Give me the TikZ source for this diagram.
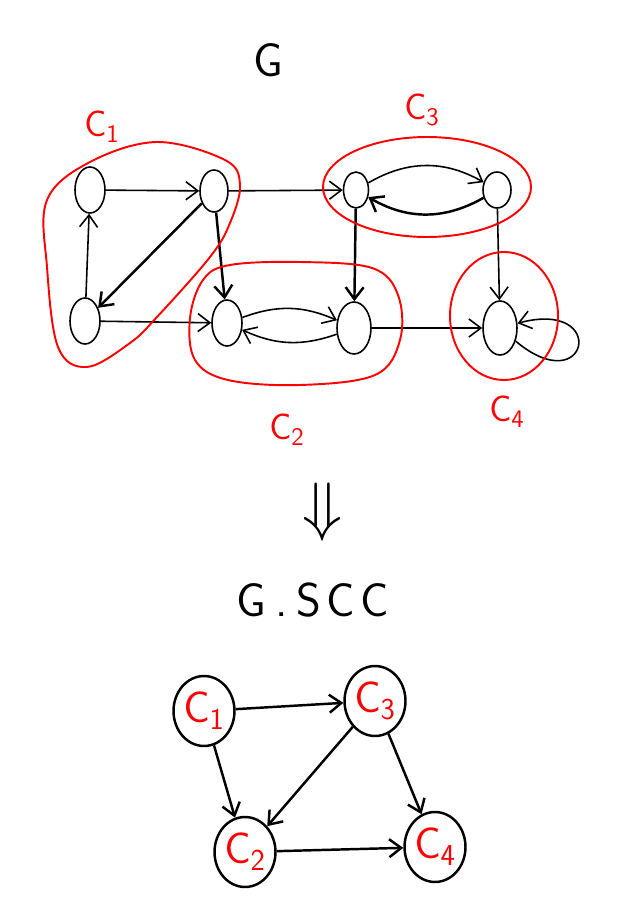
\documentclass[tikz,border=0pt]{standalone}
\usetikzlibrary{arrows.meta,shapes.geometric}

\newcommand{\complabel}[1]{$\mathsf{C}_{\mathsf{#1}}$}

\tikzset{
  vert/.style={draw,ellipse,line width=0.9pt,minimum width=0.6cm,minimum height=0.92cm,inner sep=0pt},
  comp/.style={draw,ellipse,line width=1.4pt,minimum width=1.22cm,minimum height=1.4cm,inner sep=0pt,
    text=red,font=\fontsize{24}{24}\selectfont},
  link/.style={line width=0.9pt},
  heavy/.style={line width=1.4pt},
  blob/.style={draw=red,line width=1.1pt},
  redlabel/.style={text=red,font=\fontsize{20}{20}\selectfont},
  title/.style={font=\fontsize{27}{27}\selectfont\sffamily}
}

\begin{document}
\begin{tikzpicture}[x=0.02cm,y=-0.02cm,>={Straight Barb[length=2.4mm,width=3.6mm]}]

\useasboundingbox (0,0) rectangle (616,919);

% the graph G
\node[title] (gtitle) at (268,60) {G};

\node[vert] (a) at (90,190) {};
\node[vert,minimum width=0.56cm,minimum height=0.84cm] (b) at (214,191) {};
\node[vert] (c) at (85,321) {};
\node[vert] (d) at (227,323) {};
\node[vert,minimum width=0.68cm,minimum height=1.04cm] (e) at (354,328) {};
\node[vert,minimum width=0.5cm,minimum height=0.72cm] (f) at (356,190) {};
\node[vert,minimum width=0.56cm,minimum height=0.72cm] (g) at (497,190) {};
\node[vert,minimum width=0.68cm,minimum height=1.08cm] (h) at (500,328) {};

\draw[link,->] (a) -- (b);
\draw[link,->] (c) -- (a);
\draw[heavy,->] (b) -- (c);
\draw[heavy,->] (b) -- (d);
\draw[link,->] (c) -- (d);
\draw[link,->] (b) -- (f);
\draw[link,->] (f) to[bend left=30] (g);
\draw[heavy,->] (g) to[bend left=30] (f);
\draw[heavy,->] (f) -- (e);
\draw[link,->] (d) to[bend left=22] (e);
\draw[link,->] (e) to[bend left=22] (d);
\draw[link,->] (g) -- (h);
\draw[link,->] (e) -- (h);
\draw[link,->] (h) to[out=-40,in=15,min distance=1.9cm] (h);

% components
\draw[blob] plot[smooth cycle,tension=0.6] coordinates {(47,200) (90,162) (157,142) (225,160) (240,185)
  (230,223) (210,257) (157,317) (130,343) (87,367) (58,347) (47,267)};
\draw[blob] plot[smooth cycle,tension=0.6] coordinates {(230,265) (300,262) (372,268) (398,295)
  (400,340) (375,375) (300,385) (228,380) (195,360) (190,318) (203,280)};
\draw[blob] (427,187) ellipse[x radius=104,y radius=50];
\draw[blob] (504,316) ellipse[x radius=54,y radius=64];

\node[redlabel] (l1) at (102,127) {\complabel{1}};
\node[redlabel] (l2) at (287,430) {\complabel{2}};
\node[redlabel] (l3) at (422,110) {\complabel{3}};
\node[redlabel] (l4) at (507,412) {\complabel{4}};

\node (down) at (323,512) {\scalebox{1.5}{\Huge$\Downarrow$}};

% the component graph
\node[title] (stitle) at (313,600) {G\hspace{5pt}.\hspace{5pt}S\hspace{3pt}C\hspace{3pt}C};

\node[comp] (s1) at (204,711) {\complabel{1}};
\node[comp] (s3) at (375,701) {\complabel{3}};
\node[comp] (s2) at (245,852) {\complabel{2}};
\node[comp] (s4) at (435,847) {\complabel{4}};

\draw[heavy,->] (s1) -- (s3);
\draw[heavy,->] (s1) -- (s2);
\draw[heavy,->] (s3) -- (s2);
\draw[heavy,->] (s3) -- (s4);
\draw[heavy,->] (s2) -- (s4);

\end{tikzpicture}
\end{document}
